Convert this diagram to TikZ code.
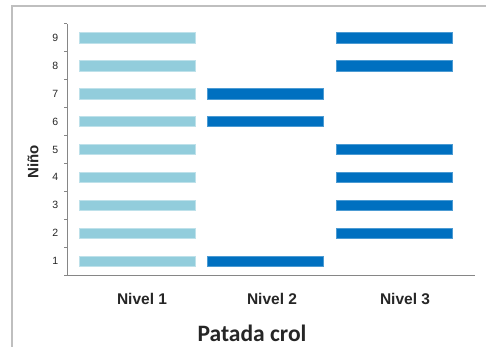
\documentclass[tikz,border=0pt]{standalone}
\usepackage{fontspec}
\setmainfont{Liberation Sans}
\newfontfamily\carl{Carlito}
\definecolor{lightbar}{HTML}{92CDDC}
\definecolor{darkbar}{HTML}{0070C0}
\definecolor{axisgray}{HTML}{868686}
\definecolor{framegray}{HTML}{BFBFBF}
\definecolor{txt}{HTML}{262626}
\begin{document}
\begin{tikzpicture}[x=1pt,y=-1pt,
  barA/.style={fill=lightbar,draw=lightbar!60!white,line width=0.6pt,minimum width=116pt,minimum height=10.5pt,inner sep=0pt},
  barB/.style={fill=darkbar,draw=darkbar!70!white,line width=0.6pt,minimum width=116pt,minimum height=10.5pt,inner sep=0pt},
  ticklab/.style={font=\fontsize{10.5}{12}\selectfont,text=txt,anchor=east,inner sep=0pt},
  catlab/.style={font=\fontsize{15.5}{17}\selectfont\bfseries,text=txt,inner sep=0pt}]
\useasboundingbox (0,0) rectangle (486,347);
\fill[white] (0,0) rectangle (486,347);
% frame
\coordinate (fbl) at (12,347);
\coordinate (ftl) at (12,6);
\coordinate (ftr) at (486,6);
\draw[framegray,line width=1.2pt] (fbl) -- (ftl) -- (ftr);
% axes
\coordinate (ytop) at (67,24);
\coordinate (orig) at (67,275);
\coordinate (xleft) at (64,275);
\coordinate (xright) at (475,275);
\draw[axisgray,line width=0.9pt] (ytop) -- (orig);
\draw[axisgray,line width=0.9pt] (xleft) -- (xright);
\foreach \k in {0,...,9}{
  \coordinate (t\k a) at (64,{275-\k*27.9});
  \coordinate (t\k b) at (67,{275-\k*27.9});
  \draw[axisgray,line width=0.9pt] (t\k a) -- (t\k b);
}
\foreach \k in {1,...,9}{
  \node[ticklab] (lab\k) at (58.5,{275-(\k-0.5)*27.9}) {\k};
}
% Nivel 1 bars
\foreach \k in {1,...,9}{
  \node[barA] (a\k) at (137,{275-(\k-0.5)*27.9}) {};
}
% Nivel 2 bars
\foreach \k in {1,6,7}{
  \node[barB] (b\k) at (265,{275-(\k-0.5)*27.9}) {};
}
% Nivel 3 bars
\foreach \k in {2,3,4,5,8,9}{
  \node[barB] (c\k) at (394,{275-(\k-0.5)*27.9}) {};
}
\node[catlab] (n1) at (142,299) {Nivel 1};
\node[catlab] (n2) at (272,299) {Nivel 2};
\node[catlab] (n3) at (405,299) {Nivel 3};
\node[font=\fontsize{15}{17}\selectfont\bfseries,text=txt,rotate=90,inner sep=0pt] (ylab) at (33,162) {Niño};
\node[font=\carl\fontsize{23.5}{25}\selectfont\bfseries,text=txt,inner sep=0pt] (xlab) at (252,333) {Patada crol};
\end{tikzpicture}
\end{document}
